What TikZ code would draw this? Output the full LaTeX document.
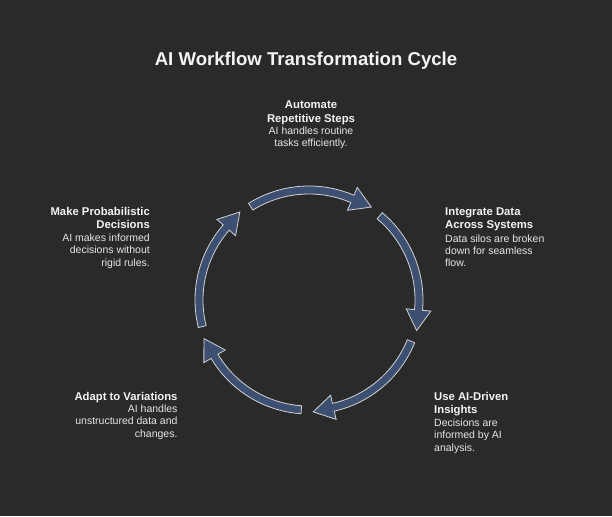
\documentclass[tikz,border=0pt]{standalone}
\usepackage{fontspec}
\setmainfont{Liberation Sans}
\usetikzlibrary{calc}
\definecolor{bgc}{HTML}{2A2A2A}
\definecolor{arrfill}{HTML}{3E5072}
\definecolor{arredge}{HTML}{D2D2D2}
\definecolor{txtw}{HTML}{F4F4F4}
\definecolor{txtd}{HTML}{E6E6E6}
\newcommand\blkR[1]{\begin{tabular}[t]{@{}r@{}}#1\end{tabular}}
\newcommand\blkL[1]{\begin{tabular}[t]{@{}l@{}}#1\end{tabular}}
\newcommand\blkC[1]{\begin{tabular}[t]{@{}c@{}}#1\end{tabular}}
\tikzset{
  ttl/.style={inner sep=0pt, text=txtw, font=\bfseries\fontsize{11.3}{13.7}\selectfont},
  dsc/.style={inner sep=0pt, text=txtd, font=\fontsize{10.5}{12.2}\selectfont},
  cyclearrow/.style={fill=arrfill, draw=arredge, line width=0.8pt, line join=miter},
}
\begin{document}
\begin{tikzpicture}[x=1pt,y=1pt]
\fill[bgc] (0,0) rectangle (612,-516);
\useasboundingbox (0,0) rectangle (612,-516);

\node[inner sep=0pt, text=txtw, font=\bfseries\fontsize{18.6}{22}\selectfont, anchor=base] (title) at (306,-66) {AI Workflow Transformation Cycle};

% cycle arrows
\begin{scope}[shift={(309,-300)}]
\foreach \c/\nm in {89/a1,17/a2,-55/a3,-127/a4,161/a5}{
  \pgfmathsetmacro\s{\c+33}
  \pgfmathsetmacro\t{\c-33}
  \pgfmathsetmacro\b{\t+10.8}
  \pgfmathsetmacro\d{\b-90}
  \draw[cyclearrow] (\s:114) arc[start angle=\s, end angle=\b, radius=114]
     -- (\b:122.4) -- ([shift={(\d:20.7)}]\b:110) -- (\b:97.6) -- (\b:106)
     arc[start angle=\b, end angle=\s, radius=106] -- cycle;
}
\end{scope}

% top
\node[ttl, anchor=base] (t1) at (311,-108.5) {\blkC{Automate\\Repetitive Steps}};
\node[dsc, anchor=base] (d1) at (311,-134) {\blkC{AI handles routine\\tasks efficiently.}};
% right
\node[ttl, anchor=base west] (t2) at (445,-215) {\blkL{Integrate Data\\Across Systems}};
\node[dsc, anchor=base west] (d2) at (445,-242) {\blkL{Data silos are broken\\down for seamless\\flow.}};
% bottom right
\node[ttl, anchor=base west] (t3) at (434,-400) {\blkL{Use AI-Driven\\Insights}};
\node[dsc, anchor=base west] (d3) at (434,-426.7) {\blkL{Decisions are\\informed by AI\\analysis.}};
% bottom left
\node[ttl, anchor=base east] (t4) at (177.7,-400) {\blkR{Adapt to Variations}};
\node[dsc, anchor=base east] (d4) at (177.7,-412.7) {\blkR{AI handles\\unstructured data and\\changes.}};
% left
\node[ttl, anchor=base east] (t5) at (150,-215) {\blkR{Make Probabilistic\\Decisions}};
\node[dsc, anchor=base east] (d5) at (150,-241.7) {\blkR{AI makes informed\\decisions without\\rigid rules.}};
\end{tikzpicture}
\end{document}
